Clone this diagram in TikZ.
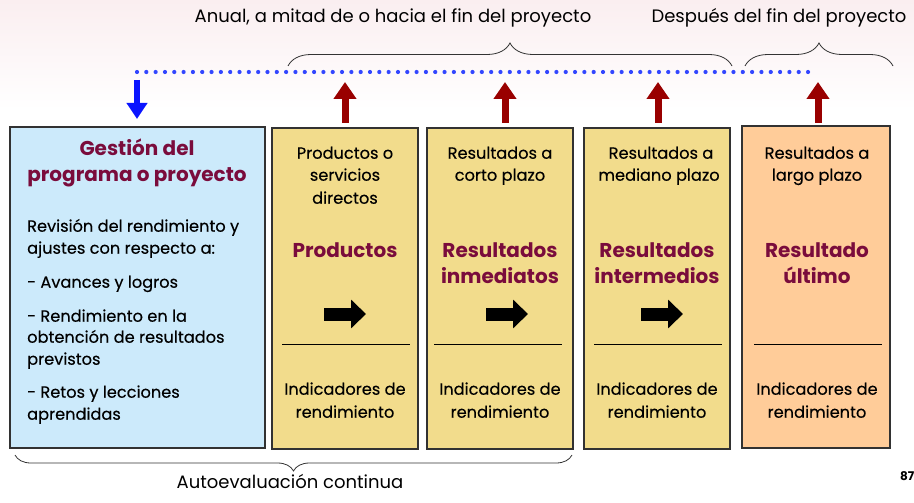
\documentclass[tikz,border=0pt]{standalone}
\usepackage{fontspec}
\setmainfont{Poppins}
\newfontfamily\medfont{Poppins}[FakeBold=0.3]
\usetikzlibrary{arrows.meta,decorations.pathreplacing}
\definecolor{bluefill}{RGB}{204,234,251}
\definecolor{yellowfill}{RGB}{242,220,140}
\definecolor{orangefill}{RGB}{255,204,153}
\definecolor{maroon}{RGB}{122,12,60}
\definecolor{darkred}{RGB}{153,0,0}
\definecolor{arrowblue}{RGB}{10,20,255}
\definecolor{dotblue}{RGB}{50,70,255}
\definecolor{boxline}{RGB}{50,50,50}
\definecolor{pinktop}{RGB}{250,238,240}
\tikzset{
  panel/.style={draw=boxline, line width=1.2pt, minimum width=146pt, minimum height=321pt, inner sep=0pt},
  txt/.style={font=\medfont\fontsize{16.2}{18}\selectfont, inner sep=0pt, text=black},
  ttl/.style={font=\fontsize{20}{22}\selectfont\bfseries, inner sep=0pt, text=maroon},
  toptxt/.style={font=\fontsize{18}{20}\selectfont, inner sep=0pt, text=black},
  redarrow/.style={darkred, line width=7pt, -{Triangle[width=22pt,length=17pt]}},
  bluearrow/.style={arrowblue, line width=6pt, -{Triangle[width=20pt,length=16pt]}},
  blockarrow/.style={black, line width=13pt, -{Triangle[width=28pt,length=15pt]}},
  sep/.style={black, line width=0.9pt},
  bracestyle/.style={draw=black!80, line width=0.8pt, decorate}
}
\begin{document}
\begin{tikzpicture}[x=1pt,y=-1pt]
\clip (0,0) rectangle (914,503);
\useasboundingbox (0,0) rectangle (914,503);
\shade[top color=pinktop, bottom color=white] (0,0) rectangle (914,110);

% top texts
\node[toptxt, anchor=mid] (tA) at (393,20) {Anual, a mitad de o hacia el fin del proyecto};
\node[toptxt, anchor=mid] (tB) at (779,20) {Después del fin del proyecto};

% braces
\coordinate (b1l) at (288,66); \coordinate (b1r) at (732,66);
\coordinate (b2l) at (745,66); \coordinate (b2r) at (893,66);
\draw[bracestyle, decoration={brace, amplitude=23pt}] (b1l) -- (b1r);
\draw[bracestyle, decoration={brace, amplitude=23pt}] (b2l) -- (b2r);

% dotted line
\foreach \i in {0,...,72} \fill[dotblue] (137+\i*9.32,72) circle (2.1);

% boxes
\node[panel, fill=bluefill, minimum width=255pt] (g) at (137.5,287.5) {};
\node[panel, fill=yellowfill] (p) at (345,288.5) {};
\node[panel, fill=yellowfill] (ri) at (500,288.5) {};
\node[panel, fill=yellowfill] (rm) at (657,288.5) {};
\node[panel, fill=orangefill, minimum width=148pt, minimum height=322pt] (ru) at (816,287) {};

% vertical arrows
\coordinate (a0s) at (137,80);  \coordinate (a0e) at (137,119);
\coordinate (a1s) at (345,123); \coordinate (a1e) at (345,82);
\coordinate (a2s) at (505,123); \coordinate (a2e) at (505,82);
\coordinate (a3s) at (658,123); \coordinate (a3e) at (658,82);
\coordinate (a4s) at (818,123); \coordinate (a4e) at (818,82);
\draw[bluearrow] (a0s) -- (a0e);
\draw[redarrow] (a1s) -- (a1e);
\draw[redarrow] (a2s) -- (a2e);
\draw[redarrow] (a3s) -- (a3e);
\draw[redarrow] (a4s) -- (a4e);

% blue box text
\node[ttl, anchor=mid] (g1) at (137,153) {Gestión del};
\node[ttl, anchor=mid] (g2) at (137,179) {programa o proyecto};
\node[txt, anchor=mid west] (g3) at (27,229) {Revisión del rendimiento y};
\node[txt, anchor=mid west] (g4) at (27,251) {ajustes con respecto a:};
\node[txt, anchor=mid west] (g5) at (27,285) {- Avances y logros};
\node[txt, anchor=mid west] (g6) at (27,319) {- Rendimiento en la};
\node[txt, anchor=mid west] (g7) at (27,340) {obtención de resultados};
\node[txt, anchor=mid west] (g8) at (27,362) {previstos};
\node[txt, anchor=mid west] (g9) at (27,395) {- Retos y lecciones};
\node[txt, anchor=mid west] (g10) at (27,417) {aprendidas};

% box 2
\node[txt, anchor=mid] (p1) at (345,156) {Productos o};
\node[txt, anchor=mid] (p2) at (345,178) {servicios};
\node[txt, anchor=mid] (p3) at (345,201) {directos};
\node[ttl, anchor=mid] (p4) at (345,255) {Productos};
% box 3
\node[txt, anchor=mid] (r1) at (500,156) {Resultados a};
\node[txt, anchor=mid] (r2) at (500,178) {corto plazo};
\node[ttl, anchor=mid] (r3) at (500,255) {Resultados};
\node[ttl, anchor=mid] (r4) at (500,281) {inmediatos};
% box 4
\node[txt, anchor=mid] (m1) at (661,156) {Resultados a};
\node[txt, anchor=mid] (m2) at (659,178) {mediano plazo};
\node[ttl, anchor=mid] (m3) at (657,255) {Resultados};
\node[ttl, anchor=mid] (m4) at (657,281) {intermedios};
% box 5
\node[txt, anchor=mid] (u1) at (817,156) {Resultados a};
\node[txt, anchor=mid] (u2) at (817,178) {largo plazo};
\node[ttl, anchor=mid] (u3) at (817,255) {Resultado};
\node[ttl, anchor=mid] (u4) at (817,281) {último};

% block arrows
\coordinate (k1s) at (324,314); \coordinate (k1e) at (366,314);
\coordinate (k2s) at (486,314); \coordinate (k2e) at (528,314);
\coordinate (k3s) at (641,314); \coordinate (k3e) at (683,314);
\draw[blockarrow] (k1s) -- (k1e);
\draw[blockarrow] (k2s) -- (k2e);
\draw[blockarrow] (k3s) -- (k3e);

% separators
\coordinate (s1l) at (282,344); \coordinate (s1r) at (410,344);
\coordinate (s2l) at (434,344); \coordinate (s2r) at (562,344);
\coordinate (s3l) at (594,344); \coordinate (s3r) at (722,344);
\coordinate (s4l) at (754,344); \coordinate (s4r) at (882,344);
\draw[sep] (s1l) -- (s1r);
\draw[sep] (s2l) -- (s2r);
\draw[sep] (s3l) -- (s3r);
\draw[sep] (s4l) -- (s4r);

% indicators
\foreach \n/\x in {i1/345, i2/500, i3/657, i4/817}{
  \node[txt, anchor=mid] (\n a) at (\x,392) {Indicadores de};
  \node[txt, anchor=mid] (\n b) at (\x,415) {rendimiento};
}

% bottom brace
\coordinate (bbl) at (572,455); \coordinate (bbr) at (15,455);
\draw[bracestyle, decoration={brace, amplitude=16pt}] (bbl) -- (bbr);
\node[toptxt, anchor=mid] (ac) at (290,486) {Autoevaluación continua};
\node[font=\fontsize{12}{14}\selectfont\bfseries, anchor=mid west, inner sep=0pt] (pg) at (900,478) {87};
\end{tikzpicture}
\end{document}
